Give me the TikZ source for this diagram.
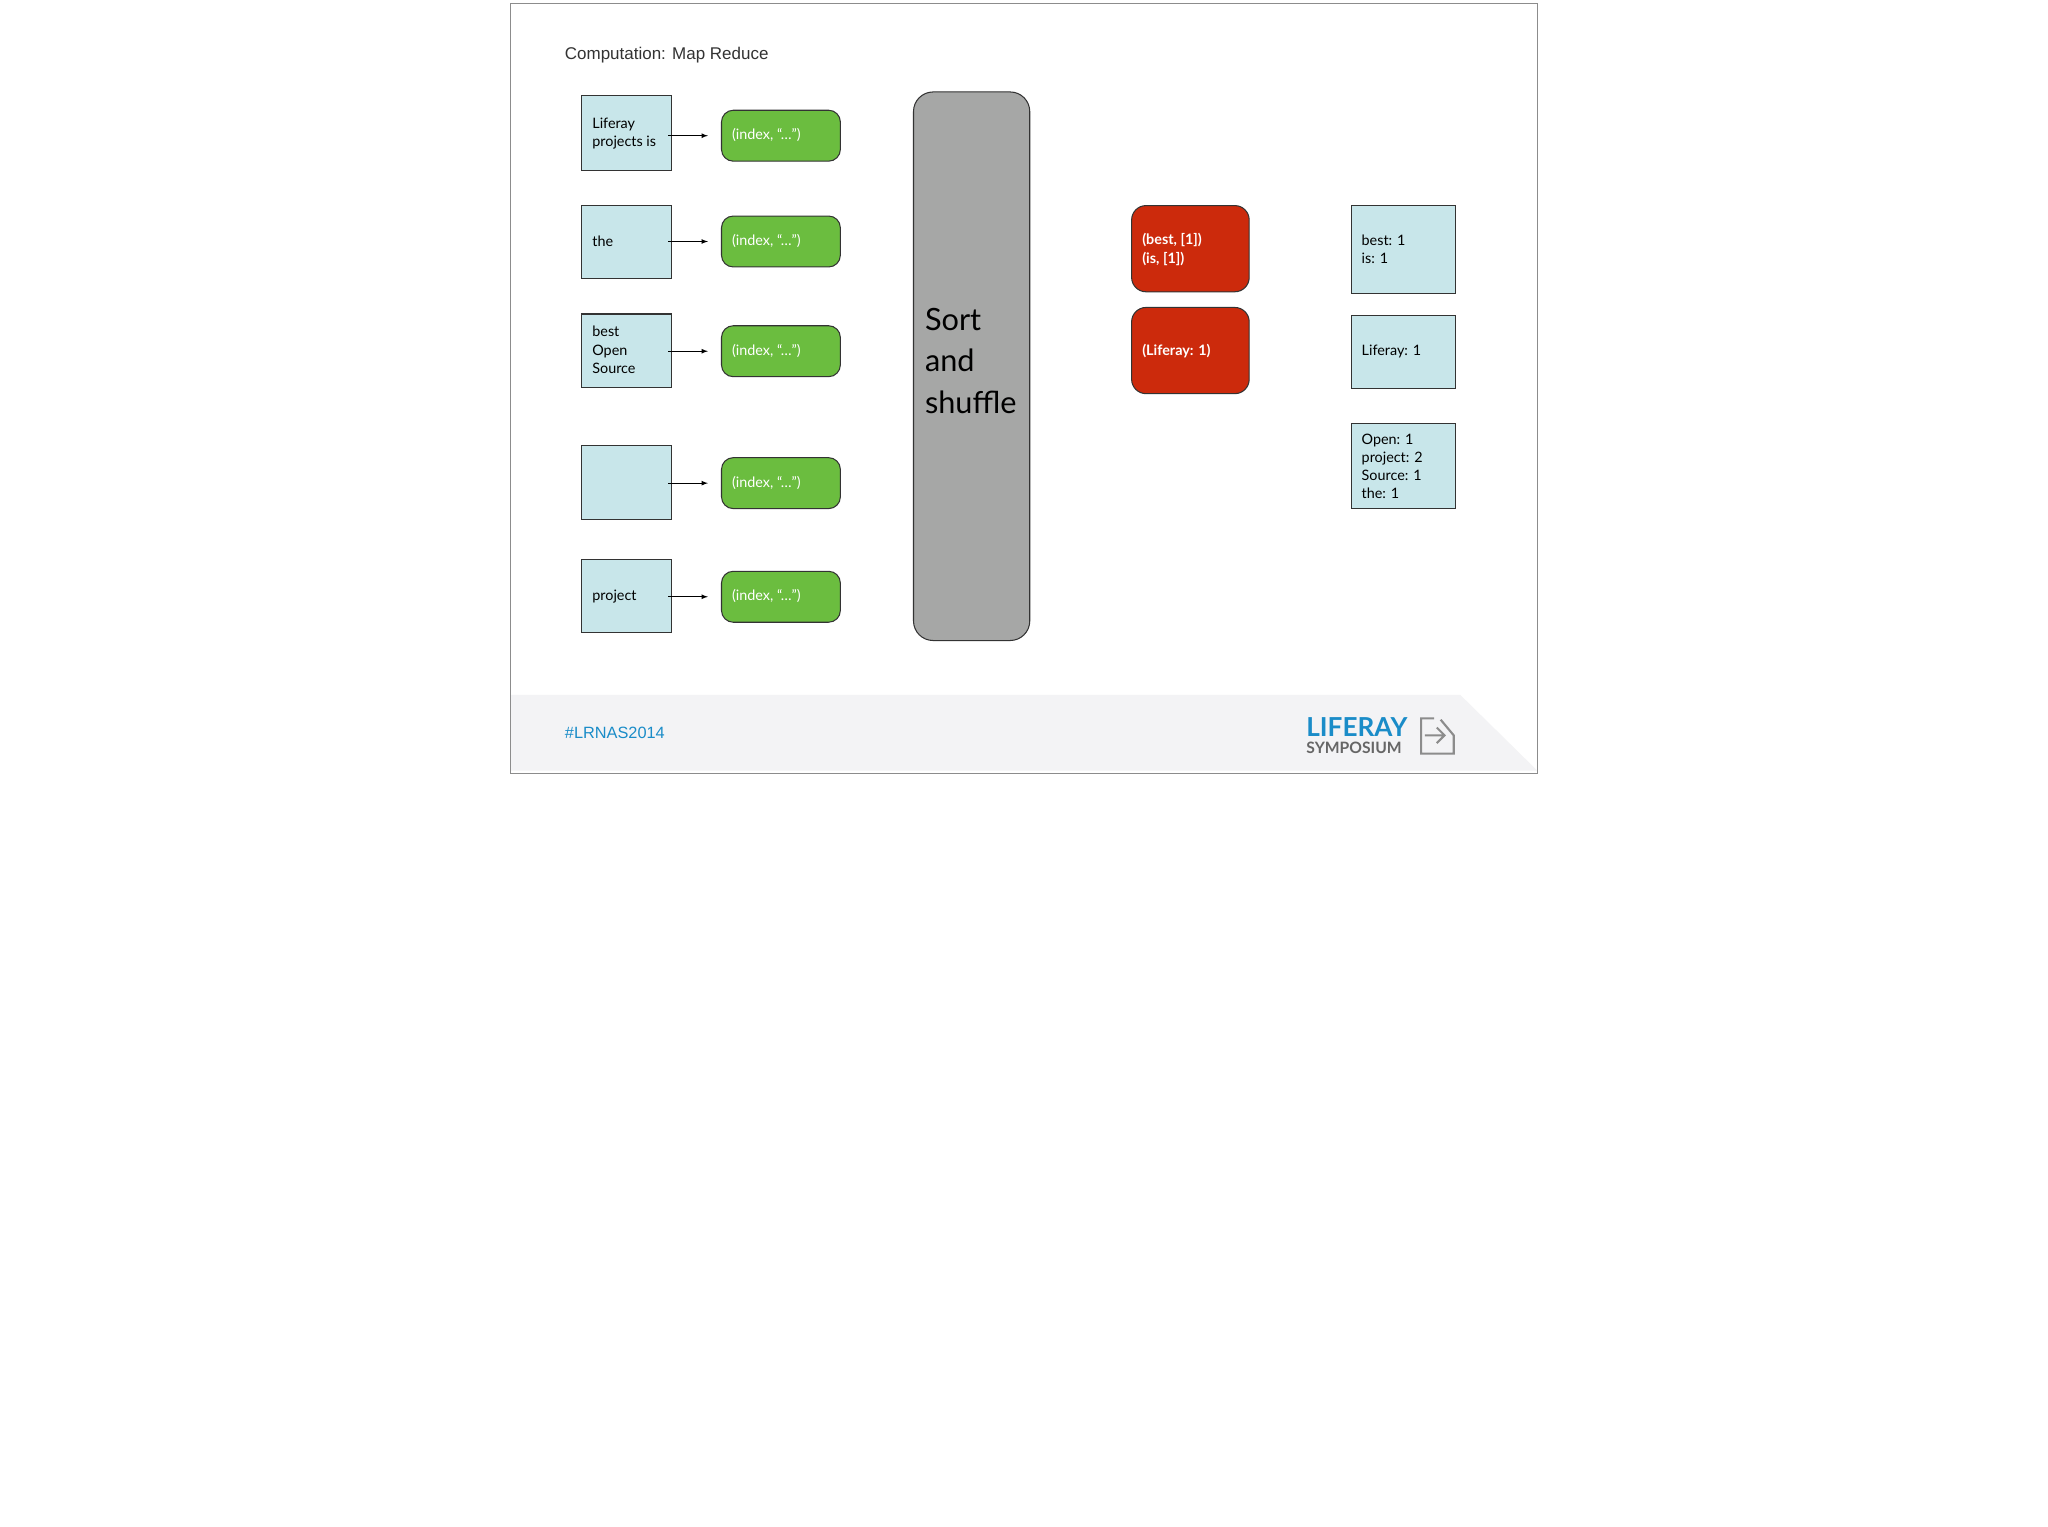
\documentclass[tikz,border=0pt]{standalone}
\usepackage{fontspec}
\setmainfont{Lato}
\newfontfamily\arialf{Liberation Sans}
\begin{document}
\begin{tikzpicture}[x=1pt,y=-1pt,
  inbox/.style={draw=black!80,line width=0.8pt,fill=cyanbg,minimum width=69pt,anchor=north west,inner sep=0pt},
  txt/.style={font=\fontsize{11}{14}\selectfont,align=left,anchor=west},
  green/.style={draw=black!80,line width=0.8pt,fill=greenbg,rounded corners=9pt,anchor=north west,minimum width=91pt,minimum height=39pt},
  red/.style={draw=black!80,line width=0.8pt,fill=redbg,rounded corners=11pt,anchor=north west,minimum width=90pt,minimum height=66pt},
  arr/.style={-latex,line width=0.7pt}]
\definecolor{cyanbg}{HTML}{C8E6EA}
\definecolor{greenbg}{HTML}{6BBD3F}
\definecolor{redbg}{HTML}{CC2A0C}
\definecolor{graybar}{HTML}{A6A7A6}
\definecolor{footbg}{HTML}{F3F3F5}
\definecolor{lblue}{HTML}{1A8CC8}
\useasboundingbox (0,0) rectangle (1568,1169);
\fill[white] (0,0) rectangle (1568,1169);
% slide
\fill[footbg] (391,532) -- (1118,532) -- (1177,590) -- (391,590) -- cycle;
\draw[black!45,line width=0.8pt] (391,3) rectangle (1177,592);
\node[font=\arialf\fontsize{13}{15}\selectfont,text=black!80,anchor=west] (title) at (429,42) {Computation: Map Reduce};
\node[font=\arialf\fontsize{12.5}{14}\selectfont,text=lblue,anchor=west] (tag) at (429,561) {\#LRNAS2014};
% left boxes
\foreach \n/\y/\h in {1/73/57,2/157/56,3/240/56,4/341/56,5/428/56}{
  \node[inbox,minimum height=\h pt] (in\n) at (445,\y) {};
}
\node[txt] at (450,102) {Liferay\\projects is};
\node[txt] at (450,185) {the};
\node[txt] at (450,268) {best\\Open\\Source};
\node[txt] at (450,457) {project};
% green
\foreach \n/\y in {1/84,2/165,3/249,4/350,5/437}{
  \node[green] (g\n) at (552,\y) {};
  \node[txt,text=white] at (557,\y+19.5) {(index, “…”)};
  \draw[arr] ([xshift=-3pt]in\n.east |- g\n.west) -- ([xshift=-10pt]g\n.west);
}
% sort bar
\node[draw=black!80,line width=0.8pt,fill=graybar,rounded corners=15pt,anchor=north west,minimum width=89pt,minimum height=420pt] (bar) at (699,70) {};
\node[font=\fontsize{23.5}{31.5}\selectfont,align=left,anchor=north west,inner sep=0pt] at (708,236) {Sort\\and\\shuffle};
% red
\node[red] (r1) at (866,157) {};
\node[red] (r2) at (866,235) {};
\node[txt,text=white,font=\bfseries\fontsize{11}{14}\selectfont] at (871,191) {(best, [1])\\(is, [1])};
\node[txt,text=white,font=\bfseries\fontsize{11}{14}\selectfont] at (871,269) {(Liferay: 1)};
% right
\node[inbox,minimum width=80pt,minimum height=67pt] (o1) at (1034,157) {};
\node[inbox,minimum width=80pt,minimum height=56pt] (o2) at (1034,241) {};
\node[inbox,minimum width=80pt,minimum height=65pt] (o3) at (1034,324) {};
\node[txt] at (1039,191) {best: 1\\is: 1};
\node[txt] at (1039,269) {Liferay: 1};
\node[txt] at (1039,357) {Open: 1\\project: 2\\Source: 1\\the: 1};
% logo
\node[font=\bfseries\fontsize{20}{20}\selectfont,text=lblue,anchor=base west,inner sep=0pt] (lf) at (1000,564) {LIFERAY};
\node[font=\bfseries\fontsize{12}{12}\selectfont,text=black!60,anchor=base west,inner sep=0pt] (sy) at (1000,577) {SYMPOSIUM};
\draw[black!45,line width=1.6pt] (1098,550) -- (1088,550) -- (1088,577) -- (1113,577) -- (1113,563) -- (1103,551);
\draw[black!45,line width=1.6pt] (1091,563) -- (1106,563) (1100,557) -- (1106,563) -- (1100,569);
\end{tikzpicture}
\end{document}
